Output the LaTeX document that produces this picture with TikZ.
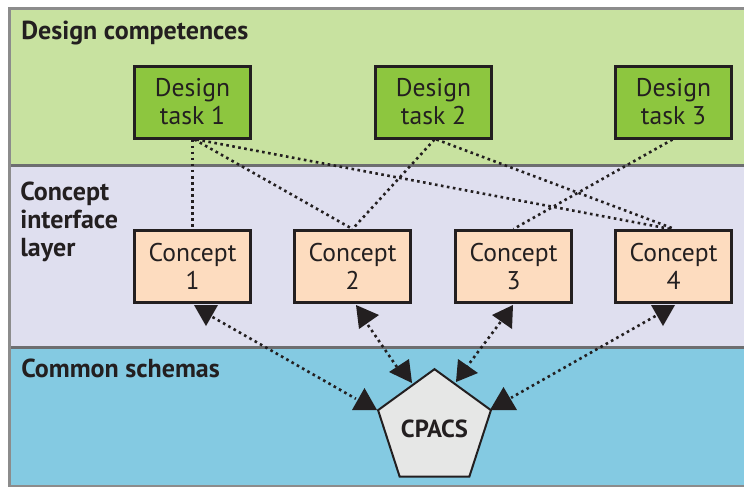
\documentclass[tikz,border=0pt]{standalone}
\usepackage{fontspec}
\setmainfont{PT Sans}
\usetikzlibrary{shapes.geometric,calc}
\definecolor{bandgreen}{HTML}{C8E2A0}
\definecolor{taskgreen}{HTML}{8DC63F}
\definecolor{bandlav}{HTML}{DFDFEF}
\definecolor{conceptfill}{HTML}{FDDCBF}
\definecolor{bandblue}{HTML}{84CAE2}
\definecolor{pentfill}{HTML}{E6E7E6}
\definecolor{framegray}{HTML}{8C8C8C}
\definecolor{sepgray}{HTML}{6D6E70}
\definecolor{ink}{HTML}{231F20}
\tikzset{
  taskbox/.style={draw=ink, line width=2.25pt, fill=taskgreen, minimum width=87pt, minimum height=54pt,
    inner sep=0pt, align=center, font=\fontsize{19.2}{21}\selectfont, text=ink},
  conceptbox/.style={taskbox, fill=conceptfill},
  layertitle/.style={anchor=base west, inner sep=0pt, align=left, font=\fontsize{19.5}{21}\selectfont\bfseries, text=ink},
  dotline/.style={draw=ink, line width=1.95pt, dash pattern=on 1.95pt off 2.6pt},
  tip/.style={fill=ink, draw=none}
}
\begin{document}
\begin{tikzpicture}[x=0.75pt,y=-0.75pt]
\useasboundingbox (0,0) rectangle (744,487);
% bands
\fill[framegray] (8,7) rectangle (744,487);
\fill[bandgreen] (11,9.5) rectangle (744,164);
\fill[sepgray] (11,164) rectangle (744,166.5);
\fill[bandlav] (11,166.5) rectangle (744,346);
\fill[sepgray] (11,346) rectangle (744,348.5);
\fill[bandblue] (11,348.5) rectangle (744,485);
% layer titles
\node[layertitle] (tdc) at (21,39) {Design competences};
\node[layertitle] (tci1) at (20,200) {Concept};
\node[layertitle] (tci2) at (20,228) {interface};
\node[layertitle] (tci3) at (20,256) {layer};
\node[layertitle] (tcs) at (21,377) {Common schemas};
% task boxes
\node[taskbox] (t1) at (192.5,102) {Design\\task 1};
\node[taskbox] (t2) at (433.5,102) {Design\\task 2};
\node[taskbox] (t3) at (673.5,102) {Design\\task 3};
% concept boxes
\node[conceptbox] (c1) at (192.5,266.5) {Concept\\1};
\node[conceptbox] (c2) at (352.5,266.5) {Concept\\2};
\node[conceptbox] (c3) at (513.5,266.5) {Concept\\3};
\node[conceptbox] (c4) at (673.5,266.5) {Concept\\4};
% CPACS pentagon
\node[regular polygon, regular polygon sides=5, minimum size=89pt, inner sep=0pt,
  draw=ink, line width=1.5pt, fill=pentfill, font=\fontsize{18.5}{19}\selectfont\bfseries, text=ink]
  (cp) at (434.5,428.5) {CPACS};
% task-concept dotted links
\draw[dotline] (t1.south) -- (c1.north);
\draw[dotline] ($(t1.south)+(2,0)$) -- (c2.north);
\draw[dotline] ($(t1.south)+(4,0)$) -- ($(c4.north)+(-3,0)$);
\draw[dotline] ($(t2.south)+(1,0)$) -- (c2.north);
\draw[dotline] ($(t2.south)+(3,0)$) -- ($(c4.north)+(1,0)$);
\draw[dotline] ($(t3.south)+(-1,0)$) -- (c3.north);
% concept-CPACS links
\draw[dotline] ($(c1.south)+(20,13)$) -- ($(cp.corner 2)+(-21,-11)$);
\draw[dotline] ($(c2.south)+(12,16)$) -- ($(cp.corner 2)+(24,-37)$);
\draw[dotline] ($(c3.south)+(-13,18)$) -- ($(cp.corner 2)+(90,-43)$);
\draw[dotline] ($(c4.south)+(-18,12)$) -- ($(cp.corner 5)+(19,-12)$);
% arrow heads
\fill[tip] (194,305) -- (218,305) -- (206,326) -- cycle;
\fill[tip] (352,410) -- (377,410) -- (364.5,388) -- cycle;
\fill[tip] (356,305) -- (379,315) -- (359,329) -- cycle;
\fill[tip] (412,383) -- (389,372) -- (409,359) -- cycle;
\fill[tip] (513,305) -- (492,315) -- (512,329) -- cycle;
\fill[tip] (456,382) -- (458,359) -- (478,373) -- cycle;
\fill[tip] (651,305) -- (675,305) -- (663,326) -- cycle;
\fill[tip] (490,410) -- (517,410) -- (503.5,387) -- cycle;
\end{tikzpicture}
\end{document}
